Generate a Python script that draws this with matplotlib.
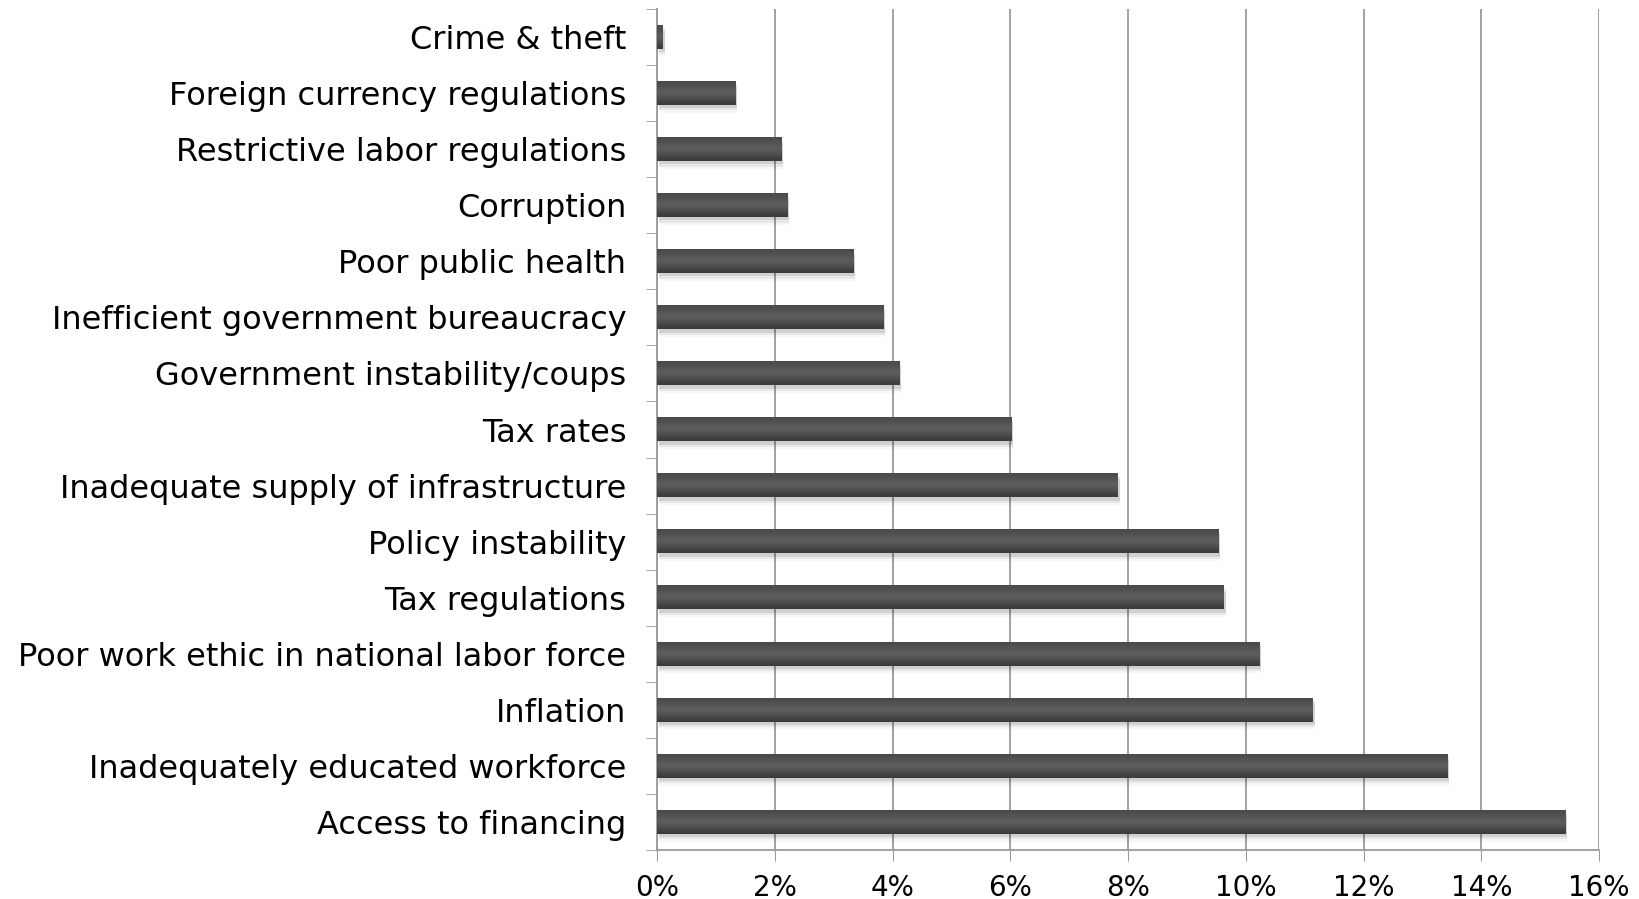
import numpy as np
import matplotlib.pyplot as plt
from matplotlib.colors import LinearSegmentedColormap

# Most problematic factors for doing business (share of responses)
factors = [
    "Access to financing",
    "Inadequately educated workforce",
    "Inflation",
    "Poor work ethic in national labor force",
    "Tax regulations",
    "Policy instability",
    "Inadequate supply of infrastructure",
    "Tax rates",
    "Government instability/coups",
    "Inefficient government bureaucracy",
    "Poor public health",
    "Corruption",
    "Restrictive labor regulations",
    "Foreign currency regulations",
    "Crime & theft",
]
shares = [15.43, 13.43, 11.14, 10.23, 9.63, 9.54, 7.83, 6.02,
          4.12, 3.84, 3.34, 2.22, 2.11, 1.33, 0.10]
x_ticks = [0, 2, 4, 6, 8, 10, 12, 14, 16]

GRID = "#9a9a9a"

fig = plt.figure(figsize=(16.39, 8.99), dpi=100)
ax = fig.add_axes([657 / 1639, 1 - 850 / 899, (1599 - 657) / 1639, (850 - 9) / 899])

ypos = np.arange(len(factors))
height = 0.42

# soft drop shadow under each bar
for dy, a in [(0.06, 0.10), (0.10, 0.06), (0.14, 0.03)]:
    ax.barh(ypos - dy, shares, height=height, left=0.03, color="black",
            alpha=a, zorder=2, linewidth=0)

bars = ax.barh(ypos, shares, height=height, color="#4f4f4f", zorder=3,
               linewidth=0)

# vertical gradient fill for the bars
cmap = LinearSegmentedColormap.from_list("bar", ["#3a3a3a", "#5e5e5e", "#4a4a4a"])
grad = np.linspace(0, 1, 64).reshape(-1, 1)
for b in bars:
    x0, y0 = b.get_x(), b.get_y()
    w, h = b.get_width(), b.get_height()
    ax.imshow(grad, cmap=cmap, aspect="auto", origin="lower",
              extent=[x0, x0 + w, y0, y0 + h], zorder=4)

ax.set_xlim(0, 16)
ax.set_ylim(-0.5, len(factors) - 0.5)

ax.set_xticks(x_ticks)
ax.set_xticklabels([f"{t}%" for t in x_ticks], fontsize=20)
ax.set_yticks(ypos)
ax.set_yticklabels(factors, fontsize=23)
ax.tick_params(axis="y", length=0, pad=22)
ax.tick_params(axis="x", length=8, color=GRID, pad=9)

# category separator ticks on the y axis
ax.set_yticks(np.arange(len(factors) + 1) - 0.5, minor=True)
ax.tick_params(axis="y", which="minor", length=8, color=GRID)

ax.grid(axis="x", color=GRID, linewidth=1.3, zorder=0)
for side in ["top", "right"]:
    ax.spines[side].set_visible(False)
for side in ["left", "bottom"]:
    ax.spines[side].set_color(GRID)
    ax.spines[side].set_linewidth(1.3)

fig.savefig("out.png", dpi=100, facecolor="white")
